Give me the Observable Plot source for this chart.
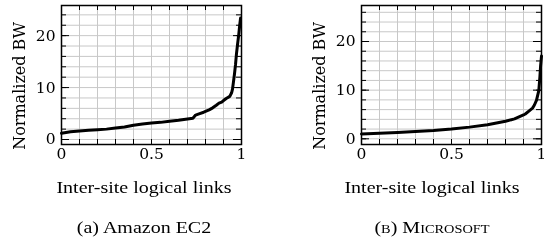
<!DOCTYPE html>
<html><head><meta charset="utf-8">
<script src="https://cdn.jsdelivr.net/npm/d3@7"></script>
<script src="https://cdn.jsdelivr.net/npm/@observablehq/plot@0.6"></script>
<style>
html,body{margin:0;padding:0;background:#fff;}
#wrap{position:relative;width:544px;height:250px;overflow:hidden;background:#fff;}
.panel{position:absolute;top:0;}
.gridlayer{position:absolute;top:0;mix-blend-mode:multiply;}
#cap{position:absolute;left:0;top:165px;}
</style></head><body><div id="wrap"></div>
<script>
// ---- text ----
const xLabel = "Inter-site logical links";
const yLabel = "Normalized BW";
const captions = ["(a) Amazon EC2", "(b) Microsoft"];
// ---- tick labels / grid ----
const xTickLabels = [0, 0.5, 1];
const yTickLabels = [0, 10, 20];
const xMinorTicks = [0.1, 0.2, 0.3, 0.4, 0.5, 0.6, 0.7, 0.8, 0.9];
const yMinorTicksEC2 = [0, 2, 4, 6, 8, 10, 12, 14, 16, 18, 20, 22, 24];
const yMinorTicksMS = [0, 2, 4, 6, 8, 10, 12, 14, 16, 18, 20, 22, 24, 26];
// ---- series: Amazon EC2 ----
const ec2X = [0, 0.05, 0.1, 0.15, 0.2, 0.25, 0.3, 0.35, 0.4, 0.45, 0.5, 0.55, 0.6, 0.65, 0.7, 0.73, 0.745, 0.76, 0.79, 0.82, 0.84, 0.86, 0.875, 0.89, 0.9, 0.915, 0.935, 0.945, 0.95, 0.955, 0.961, 0.967, 0.972, 0.978, 0.985, 0.99, 0.995];
const ec2Y = [1.2, 1.5, 1.65, 1.8, 1.9, 2.0, 2.2, 2.4, 2.75, 3.0, 3.2, 3.3, 3.5, 3.7, 3.95, 4.1, 4.7, 4.9, 5.25, 5.7, 6.1, 6.6, 7.0, 7.2, 7.5, 7.9, 8.3, 9.0, 9.7, 11.0, 12.6, 14.5, 16.5, 18.3, 20.3, 22.0, 23.4];
// ---- series: Microsoft ----
const msX = [0, 0.1, 0.2, 0.3, 0.4, 0.5, 0.6, 0.7, 0.8, 0.85, 0.9, 0.91, 0.93, 0.95, 0.96, 0.972, 0.985, 0.991, 0.995, 1.0];
const msY = [1.0, 1.15, 1.3, 1.5, 1.7, 2.0, 2.4, 2.9, 3.6, 4.1, 4.9, 5.1, 5.7, 6.3, 6.9, 7.9, 9.9, 12.7, 15.0, 17.0];

const FW = 180, FH = 139;
const baseStyle = {fontFamily: "DejaVu Serif", fontSize: "15.5px", color: "black", background: "transparent", overflow: "visible"};

function dataLayer(xs, ys, yDomain, marginLeft, marginRight) {
  const data = xs.map((x, i) => ({x, y: ys[i]}));
  return Plot.plot({
    width: 272, height: 170,
    marginLeft, marginRight, marginTop: 5, marginBottom: 26,
    x: {domain: [0, 1]},
    y: {domain: yDomain},
    style: baseStyle,
    marks: [
      Plot.line(data, {x: "x", y: "y", stroke: "black", strokeWidth: 3, strokeLinejoin: "round"}),
      Plot.axisX(xTickLabels, {tickSize: 0, tickPadding: 3, tickFormat: d => String(d), label: null}),
      Plot.axisY(yTickLabels, {tickSize: 0, tickPadding: 6, tickFormat: d => String(d), label: null}),
      Plot.text([yLabel], {frameAnchor: "left", rotate: -90, dx: -42, dy: 11, text: d => d, textAnchor: "middle", fontSize: 16})
    ]
  });
}

function gridLayer(yDomain, yMinor, marginLeft, marginRight) {
  return Plot.plot({
    width: 272, height: 170,
    marginLeft, marginRight, marginTop: 5, marginBottom: 26,
    x: {domain: [0, 1], axis: null},
    y: {domain: yDomain, axis: null},
    style: baseStyle,
    marks: [
      Plot.tickX(xMinorTicks, {x: d => d, stroke: "#c8c8c8", strokeWidth: 1}),
      Plot.tickY(yMinor, {y: d => d, stroke: "#c8c8c8", strokeWidth: 1}),
      Plot.tickX(xMinorTicks, {x: d => d, insetTop: FH - 5, stroke: "black", strokeWidth: 1}),
      Plot.tickX(xMinorTicks, {x: d => d, insetBottom: FH - 5, stroke: "black", strokeWidth: 1}),
      Plot.tickY(yMinor, {y: d => d, insetRight: FW - 5, stroke: "black", strokeWidth: 1}),
      Plot.tickY(yMinor, {y: d => d, insetLeft: FW - 5, stroke: "black", strokeWidth: 1}),
      Plot.tickY(yTickLabels, {y: d => d, insetRight: FW - 8, stroke: "black", strokeWidth: 1}),
      Plot.tickY(yTickLabels, {y: d => d, insetLeft: FW - 8, stroke: "black", strokeWidth: 1}),
      Plot.frame({stroke: "black", strokeWidth: 1.5})
    ]
  });
}

const wrap = document.getElementById("wrap");
const d1 = dataLayer(ec2X, ec2Y, [-0.96, 25.8], 61, 31);
d1.classList.add("panel"); d1.style.left = "0px";
const d2 = dataLayer(msX, msY, [-1.17, 27.4], 89, 3);
d2.classList.add("panel"); d2.style.left = "272px";
wrap.appendChild(d1); wrap.appendChild(d2);

const cap = d3.create("svg").attr("id", "cap").attr("width", 544).attr("height", 85)
  .style("font-family", "'Liberation Serif', serif").style("font-size", "20px");
[144, 432].forEach((cx, i) => {
  cap.append("text").attr("transform", `translate(${cx},28) scale(1,0.8)`)
    .attr("text-anchor", "middle").text(xLabel);
  cap.append("text").attr("transform", `translate(${cx},68) scale(1,0.8)`)
    .attr("text-anchor", "middle")
    .style("font-variant", i === 1 ? "small-caps" : "normal").text(captions[i]);
});
wrap.appendChild(cap.node());

const g1 = gridLayer([-0.96, 25.8], yMinorTicksEC2, 61, 31);
g1.classList.add("gridlayer"); g1.style.left = "0px";
const g2 = gridLayer([-1.17, 27.4], yMinorTicksMS, 89, 3);
g2.classList.add("gridlayer"); g2.style.left = "272px";
wrap.appendChild(g1); wrap.appendChild(g2);
</script></body></html>
